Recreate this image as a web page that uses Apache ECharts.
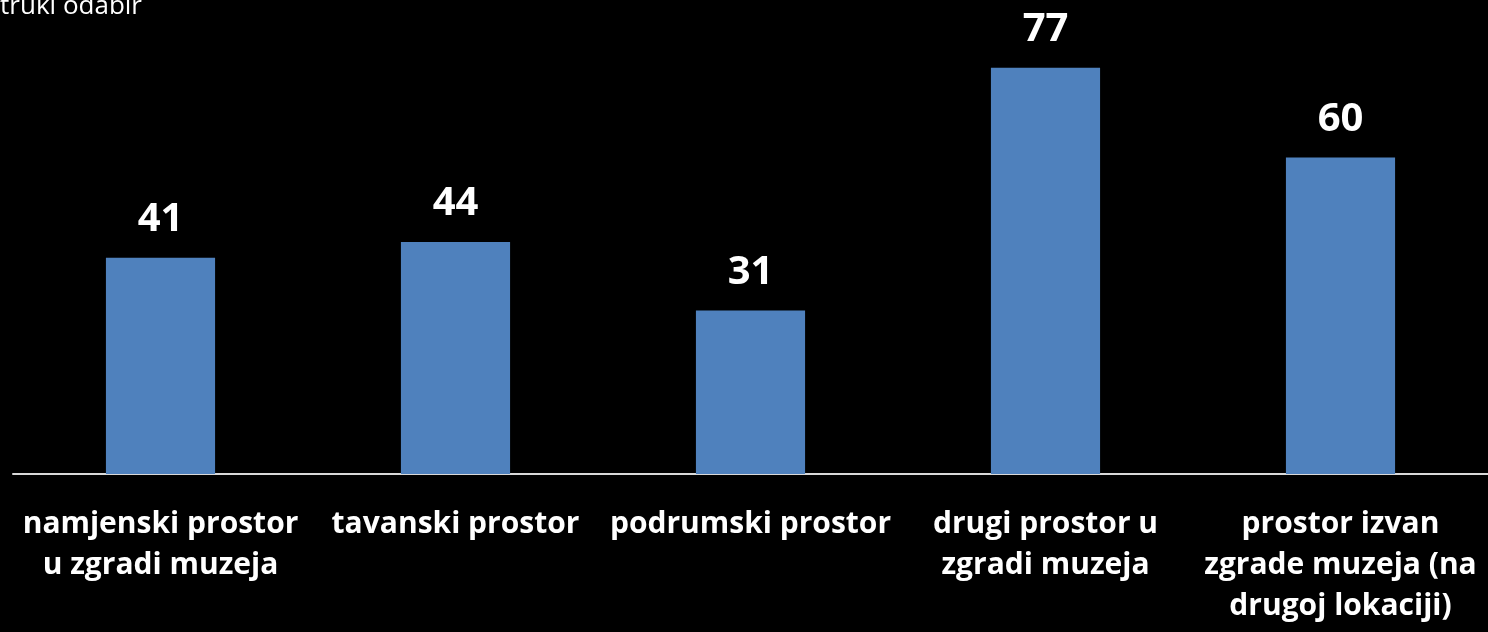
<!DOCTYPE html>
<html>
<head>
<meta charset="utf-8">
<script src="https://cdn.jsdelivr.net/npm/echarts@6/dist/echarts.min.js"></script>
<style>
  html, body { margin: 0; padding: 0; background: #000; }
  #chart { width: 1488px; height: 632px; }
</style>
</head>
<body>
<div id="chart"></div>
<script>
const categories = [
  'namjenski prostor\nu zgradi muzeja',
  'tavanski prostor',
  'podrumski prostor',
  'drugi prostor u\nzgradi muzeja',
  'prostor izvan\nzgrade muzeja (na\ndrugoj lokaciji)'
];
const values = [41, 44, 31, 77, 60];

let chart = echarts.init(document.getElementById('chart'));
const option = {
  backgroundColor: '#000',
  animation: false,
  graphic: {
    type: 'text',
    x: 142,
    y: 20,
    style: {
      text: 'Višestruki odabir',
      fill: '#fff',
      fontSize: 26,
      fontFamily: 'Open Sans',
      textAlign: 'right',
      textVerticalAlign: 'bottom'
    }
  },
  grid: { left: 13, right: 0, top: 52, bottom: 158 },
  xAxis: {
    type: 'category',
    data: categories,
    axisLine: { lineStyle: { color: '#d9d9d9', width: 2 } },
    axisTick: { show: false },
    axisLabel: {
      color: '#fff',
      fontSize: 30,
      fontWeight: 'bold',
      fontFamily: 'Open Sans',
      lineHeight: 41,
      margin: 30,
      interval: 0
    }
  },
  yAxis: {
    type: 'value',
    min: 0,
    max: 80,
    show: false,
    splitLine: { show: false }
  },
  series: [{
    type: 'bar',
    data: values,
    barWidth: '37%',
    itemStyle: { color: '#4f81bd' },
    label: {
      show: true,
      position: 'top',
      distance: 18,
      color: '#fff',
      fontSize: 40,
      fontWeight: 'bold',
      fontFamily: 'Open Sans'
    }
  }]
};
chart.setOption(option);
</script>
</body>
</html>
